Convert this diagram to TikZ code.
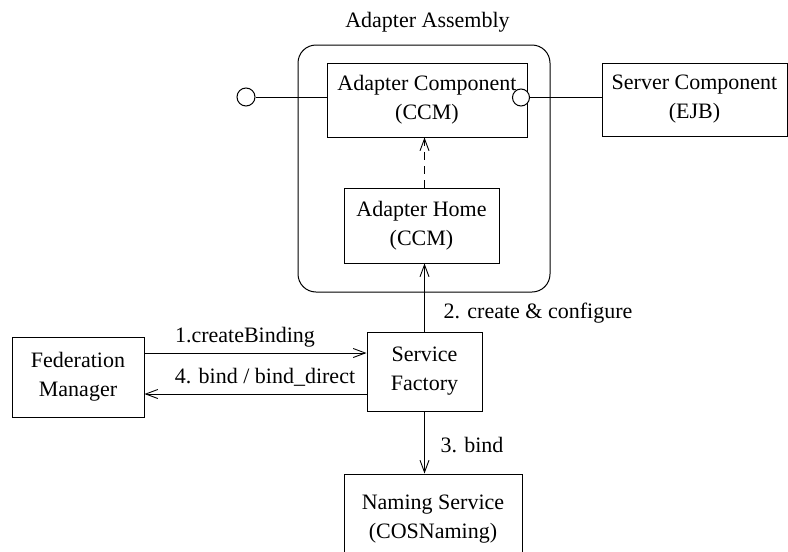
\documentclass[tikz,border=0pt]{standalone}
\usepackage{fontspec}
\setmainfont{Liberation Serif}
\usetikzlibrary{arrows.meta,calc}
\tikzset{
  box/.style={draw, line width=1pt, align=center, inner sep=0pt},
  conn/.style={line width=1pt},
  arr/.style={conn, -{Straight Barb[length=12pt,width=9pt,line width=0.9pt]}},
  lolli/.style={draw, circle, line width=1pt, fill=white, inner sep=0pt},
  lbl/.style={inner sep=0pt}
}
\begin{document}
\begin{tikzpicture}[x=1pt,y=-1pt,font=\fontsize{22}{29}\selectfont]
\useasboundingbox (0,0) rectangle (788,552);
% outer assembly
\draw[conn, rounded corners=18pt] (298,45) rectangle (550,292);
\node[lbl] (title) at (427.5,22) {Adapter Assembly};
% nodes
\node[box, minimum width=200pt, minimum height=74pt] (ac) at (427,100) {Adapter Component\\(CCM)};
\node[box, minimum width=155pt, minimum height=75pt] (home) at (421.5,225.5) {Adapter Home\\(CCM)};
\node[box, minimum width=185pt, minimum height=73pt] (sc) at (694.5,99.5) {Server Component\\(EJB)};
\node[box, minimum width=132pt, minimum height=80pt] (fm) at (78,377) {Federation\\Manager};
\node[box, minimum width=115pt, minimum height=79pt] (sf) at (424.5,371.5) {Service\\Factory};
\node[box, minimum width=178pt, minimum height=86pt, text depth=0pt] (ns) at (433,517) {Naming Service\\(COSNaming)};
% lollipops
\node[lolli, minimum size=18pt] (lp) at (246,97) {};
\node[lolli, minimum size=17pt] (rp) at (521,97.5) {};
\draw[conn] (lp.east) -- (ac.west |- lp.east);
\draw[conn] (rp.east) -- (sc.west |- rp.east);
% connectors
\draw[arr, dash pattern=on 8pt off 6pt] (home.north -| sf.north) -- (ac.south -| sf.north);
\draw[arr] (sf.north) -- (home.south -| sf.north);
\draw[arr] (sf.south) -- (ns.north -| sf.south);
\draw[arr] ([yshift=24pt]fm.east) -- ([yshift=24pt]fm.east -| sf.west);
\draw[arr] ([yshift=-17pt]fm.east -| sf.west) -- ([yshift=-17pt]fm.east);
% labels
\node[lbl] (l1) at (245,337) {1.createBinding};
\node[lbl] (l4) at (265,377) {4. bind / bind\_direct};
\node[lbl] (l2) at (538,313) {2. create \& configure};
\node[lbl] (l3) at (472,445) {3. bind};
\end{tikzpicture}
\end{document}
